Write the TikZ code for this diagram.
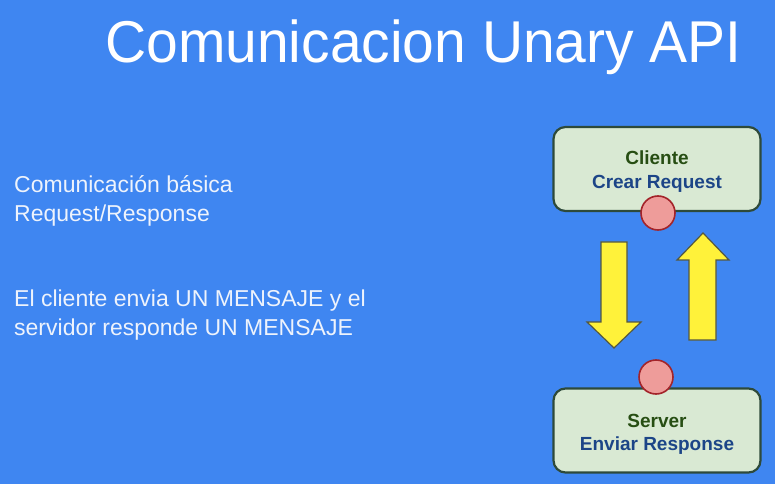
\documentclass[tikz,border=0pt]{standalone}
\usepackage{fontspec}
\usepackage{graphicx}
\setmainfont{Liberation Sans}
\definecolor{bgblue}{HTML}{3F86F1}
\definecolor{boxfill}{HTML}{D9E9D3}
\definecolor{boxline}{HTML}{2E4A3A}
\definecolor{dotfill}{HTML}{EE9C9A}
\definecolor{dotline}{HTML}{A3242A}
\definecolor{arrfill}{HTML}{FFF23A}
\definecolor{arrline}{HTML}{55583F}
\definecolor{txtgreen}{HTML}{274E13}
\definecolor{txtblue}{HTML}{1C4587}
\definecolor{lighttxt}{HTML}{EEF3FC}
\tikzset{
  box/.style={draw=boxline, line width=2.2bp, fill=boxfill, rounded corners=12bp,
    minimum width=207bp, minimum height=84bp, inner sep=0pt},
  boxtxt/.style={anchor=base, inner sep=0pt, font=\fontsize{19bp}{24bp}\selectfont\bfseries},
  dot/.style={draw=dotline, line width=1.6bp, fill=dotfill, circle, minimum size=34bp, inner sep=0pt},
  bigarrow/.style={draw=arrline, line width=1.2bp, fill=arrfill},
  lefttxt/.style={anchor=base west, inner sep=0pt, text=lighttxt, font=\fontsize{23bp}{27bp}\selectfont},
}
\begin{document}
\begin{tikzpicture}[x=1bp,y=-1bp]
\fill[bgblue] (0,0) rectangle (775,484);
\useasboundingbox (0,0) rectangle (775,484);
\node[anchor=base west, inner sep=0pt, text=white, font=\fontsize{59bp}{70bp}\selectfont] (title) at (105,63) {\scalebox{0.966}[1]{Comunicacion Unary API}};
\node[lefttxt] (l1) at (14,193) {Comunicación básica};
\node[lefttxt] (l2) at (14,222) {Request/Response};
\node[lefttxt] (l3) at (14,307) {El cliente envia UN MENSAJE y el};
\node[lefttxt] (l4) at (14,335) {servidor responde UN MENSAJE};
\node[box] (cliente) at (657,169) {};
\node[box] (server) at (657,430.5) {};
\node[boxtxt, text=txtgreen] (clt1) at (657,165) {Cliente};
\node[boxtxt, text=txtblue] (clt2) at (657,189) {Crear Request};
\node[boxtxt, text=txtgreen] (srv1) at (657,427) {Server};
\node[boxtxt, text=txtblue] (srv2) at (657,450) {Enviar Response};
\node[dot] (c1) at (658,213) {};
\node[dot] (c2) at (656,377) {};
\draw[bigarrow] (601,242) -- (627,242) -- (627,322) -- (641,322) -- (614,348) -- (587,322) -- (601,322) -- cycle;
\draw[bigarrow] (689,340) -- (716,340) -- (716,260) -- (729,260) -- (703,233) -- (677,260) -- (689,260) -- cycle;
\end{tikzpicture}
\end{document}
